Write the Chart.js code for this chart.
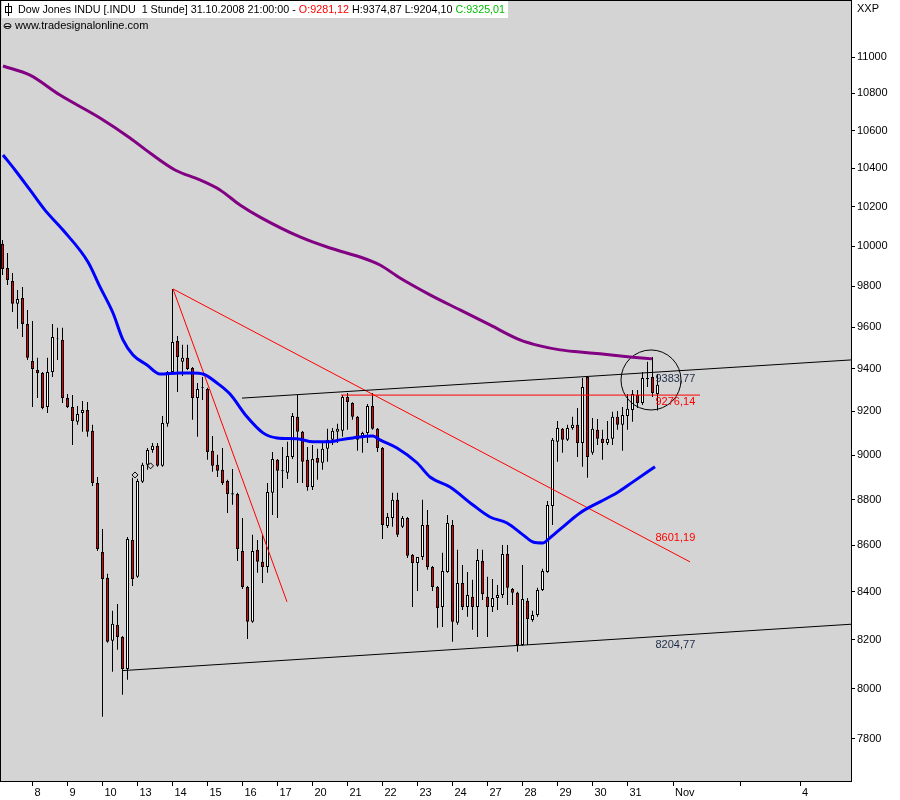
<!DOCTYPE html>
<html>
<head>
<meta charset="utf-8">
<script src="https://cdn.jsdelivr.net/npm/chart.js@4.4.0/dist/chart.umd.min.js"></script>
<style>
  html, body { margin: 0; padding: 0; background: #fff; }
</style>
</head>
<body>
<canvas id="chart" width="900" height="800"></canvas>
<script>
// hourly candles, Oct 7 (partial) .. Oct 31 2008, one entry per bar
var opens = [10011,9890,9825,9713,9742,9615,9437,9394,9380,9221,9385,9546,9538,9262,9221,9152,9193,9207,9111,8874,
  8571,8459,8195,8262,8211,8080,8623,8464,8879,8956,9023,9042,8951,9143,9385,9533,9433,9452,9404,9262,
  9314,9305,9019,8956,8933,8883,8828,8825,8575,8421,8274,8580,8528,8506,8830,8978,8931,8920,8991,9175,
  9106,8978,8856,8987,8965,9028,9069,9106,9111,9267,9239,9175,9087,9101,9225,9120,9032,8684,8719,8799,
  8680,8719,8558,8523,8549,8688,8506,8421,8336,8485,8688,8270,8438,8336,8379,8336,8532,8379,8336,8374,
  8387,8562,8412,8396,8178,8362,8282,8303,8408,8485,8772,9060,9120,9069,9124,9138,9055,9361,9010,9115,
  9074,9055,9074,9175,9138,9179,9207,9276,9239,9356,9361,9281.12];
var highs = [10031,9965,9865,9781,9796,9683,9629,9452,9385,9452,9615,9596,9596,9281,9276,9225,9248,9244,9138,8901,
  8671,8477,8320,8349,8215,8636,8897,8893,8965,9032,9055,9055,9179,9390,9786,9557,9514,9514,9408,9333,
  9361,9310,9087,9001,9032,8888,8937,8830,8719,8425,8645,8623,8645,8874,9014,8982,9037,9060,9193,9276,
  9110,9037,9046,9028,9055,9120,9124,9143,9276,9286,9243,9179,9106,9234,9286,9124,9036,8741,8830,8830,
  8728,8723,8562,8549,8799,8754,8510,8425,8567,8732,8710,8580,8515,8485,8451,8584,8580,8464,8455,8429,
  8601,8601,8416,8400,8515,8374,8320,8417,8498,8794,9078,9156,9124,9138,9175,9216,9356,9366,9170,9165,
  9115,9156,9198,9202,9221,9281,9300,9300,9385,9433,9456,9374.87];
var lows = [9855,9806,9673,9591,9552,9442,9221,9262,9210,9193,9361,9442,9239,9216,9046,9138,9106,9083,8861,8575,
  7887,8187,8068,8158,7975,8036,8425,8460,8874,8933,9010,8947,8947,9129,9380,9290,9366,9394,9161,9083,
  9253,8978,8924,8901,8865,8741,8777,8532,8412,8203,8270,8481,8438,8481,8732,8719,8852,8892,8982,8874,
  8874,8839,8843,8888,8933,8969,9046,9055,9083,9115,9161,9019,9010,9055,9115,9014,8627,8675,8680,8636,
  8675,8545,8336,8404,8536,8494,8404,8249,8253,8481,8191,8262,8324,8295,8241,8211,8366,8211,8315,8324,
  8374,8345,8345,8150,8175,8178,8274,8295,8404,8481,8688,8969,9010,9064,9115,8991,8947,8897,9001,9046,
  8978,9046,9046,9115,9019,9115,9152,9216,9230,9314,9267,9204.10];
var closes = [9885,9830,9713,9737,9615,9452,9399,9380,9216,9385,9552,9543,9262,9221,9156,9188,9207,9106,8874,8584,
  8455,8191,8266,8211,8080,8627,8455,8883,8956,9023,9042,8951,9147,9385,9528,9456,9452,9399,9262,9305,
  9310,9014,8951,8929,8874,8825,8823,8584,8421,8274,8575,8528,8506,8834,8982,8929,8927,8996,9179,9106,
  8969,8856,8982,8965,9028,9069,9111,9120,9267,9244,9175,9069,9101,9225,9120,9032,8688,8723,8799,8645,
  8719,8554,8523,8549,8688,8506,8421,8332,8489,8697,8274,8438,8336,8387,8336,8536,8391,8336,8374,8387,
  8562,8417,8396,8178,8370,8286,8303,8408,8489,8776,9069,9124,9069,9124,9138,9055,9314,8991,9120,9074,
  9055,9074,9175,9138,9184,9212,9281,9239,9356,9352,9286,9325.01];

// moving averages at bar positions
var maFastX = [0.1,2.5,5.5,8.5,12.1,17.1,19.5,22.1,24.1,26.1,28.9,31.5,35.5,38.1,40.1,42.9,45.5,48.9,52.1,54.9,
  58.9,62.1,65.5,67.5,70.1,74.1,75.5,78.9,82.9,85.5,89.5,94.1,97.5,100.9,104.1,106.1,108.1,109.5,112.1,115.5,
  119.5,122.9,126.1,130.5];
var maFastY = [10470,10391,10287,10183,10081,9920,9796,9668,9538,9466,9418,9375,9380,9380,9375,9333,9281,9175,9101,9078,
  9074,9060,9060,9069,9078,9087,9069,9032,8965,8901,8856,8776,8723,8697,8645,8614,8610,8632,8680,8741,
  8790,8830,8879,8947];
var maSlowX = [0.1,5.5,11.5,19.5,25.5,29.5,34.5,39.5,43.5,47.5,51.5,59.5,65.5,71.5,75.5,79.5,85.5,91.5,97.5,103.5,
  107.5,111.5,115.5,119.5,125.5,129.9];
var maSlowY = [10950,10900,10791,10667,10560,10480,10391,10339,10287,10209,10147,10046,9990,9945,9905,9840,9757,9683,9610,9538,
  9509,9490,9480,9471,9456,9447];

// drawn trend lines (bar index, price)
var upperLineX = [47.9, 169.7], upperLineY = [9262, 9442];
var lowerLineX = [24.0, 169.7], lowerLineY = [8073, 8264];
var flatLineX = [67.7, 139.5], flatLineY = [9276.14, 9276.14];
var fallLineX = [34.1, 137.5], fallLineY = [9786, 8528];
var steepLineX = [34.1, 56.9], steepLineY = [9786, 8358];

var circleX = [129.7], circleY = [9347];
var markX = [26.5, 29.6], markY = [8910, 8951];

var levelValues = [9383.77, 9276.14, 8601.19, 8204.77];
var levelTexts = ['9383,77', '9276,14', '8601,19', '8204,77'];
var levelAt = 130.6;

var xTickValues = [6,13,20,27,34,41,48,55,62,69,76,83,90,97,104,111,118,125,134.1,147.5,159.5];
var xTickLabels = ['8','9','10','13','14','15','16','17','20','21','22','23','24','27','28','29','30','31','Nov','','4'];
var yTickValues = [7800,8000,8200,8400,8600,8800,9000,9200,9400,9600,9800,10000,10200,10400,10600,10800,11000];

var xMin = -0.3, xMax = 169.7;
var yMin = 7636, yMax = 11315;

function pts(xs, ys) {
    var out = [];
    for (var i = 0; i < xs.length; i++) out.push({x: xs[i], y: ys[i]});
    return out;
}

var bodies = [], wicks = [], bodyColors = [];
for (var i = 0; i < opens.length; i++) {
    bodies.push({x: i, y: [opens[i], closes[i]]});
    wicks.push({x: i, y: [lows[i], highs[i]]});
    bodyColors.push(closes[i] >= opens[i] ? '#ffffff' : '#e40000');
}

var FONT = '"Liberation Sans", Arial, sans-serif';

function trend(xs, ys, color) {
    return {
        type: 'line', data: pts(xs, ys), borderColor: color, borderWidth: 1,
        pointRadius: 0, tension: 0, order: 0
    };
}

var framePlugin = {
    id: 'frame',
    beforeDraw: function(chart) {
        var ctx = chart.ctx, a = chart.chartArea;
        ctx.save();
        ctx.fillStyle = '#ffffff';
        ctx.fillRect(0, 0, chart.width, chart.height);
        ctx.fillStyle = '#d4d4d4';
        ctx.fillRect(a.left, a.top, a.right - a.left, a.bottom - a.top);
        ctx.restore();
    },
    afterDatasetsDraw: function(chart) {
        var ctx = chart.ctx;
        var xs = chart.scales.x, ys = chart.scales.y;
        var colors = ['#1e2c48', '#ff0000', '#ff0000', '#1e2c48'];
        ctx.save();
        ctx.font = '11px ' + FONT;
        ctx.textAlign = 'left';
        for (var i = 0; i < levelValues.length; i++) {
            var px = xs.getPixelForValue(levelAt);
            var py = ys.getPixelForValue(levelValues[i]);
            ctx.fillStyle = colors[i];
            if (i == 2) {
                ctx.textBaseline = 'bottom';
                ctx.fillText(levelTexts[i], px, py - 1);
            } else {
                ctx.textBaseline = 'top';
                ctx.fillText(levelTexts[i], px, py + 1);
            }
        }
        ctx.restore();
    },
    afterDraw: function(chart) {
        var ctx = chart.ctx, a = chart.chartArea;
        ctx.save();
        // plot frame
        ctx.strokeStyle = '#000';
        ctx.lineWidth = 1;
        ctx.strokeRect(a.left - 0.5, a.top - 0.5, a.right - a.left + 1, a.bottom - a.top + 1);
        ctx.beginPath();
        ctx.moveTo(a.left, a.bottom + 0.5);
        ctx.lineTo(a.right, a.bottom + 0.5);
        ctx.stroke();

        // header line
        ctx.fillStyle = '#ffffff';
        ctx.fillRect(2, 1, 506, 17);
        ctx.strokeStyle = '#000';
        ctx.beginPath();
        ctx.moveTo(8.5, 3); ctx.lineTo(8.5, 16);
        ctx.stroke();
        ctx.strokeRect(5.5, 6.5, 6, 6);

        ctx.font = '10.75px ' + FONT;
        ctx.textBaseline = 'middle';
        ctx.textAlign = 'left';
        var parts = [
            ['Dow Jones INDU [.INDU  1 Stunde] 31.10.2008 21:00:00 - ', '#000000'],
            ['O:9281,12', '#ff0000'],
            [' H:9374,87 L:9204,10 ', '#000000'],
            ['C:9325,01', '#00c000']
        ];
        var tx = 18;
        parts.forEach(function(p) {
            ctx.fillStyle = p[1];
            ctx.fillText(p[0], tx, 10);
            tx += ctx.measureText(p[0]).width;
        });

        // second line
        ctx.beginPath();
        ctx.ellipse(7.5, 26, 3.5, 2.5, 0, 0, Math.PI * 2);
        ctx.stroke();
        ctx.beginPath();
        ctx.moveTo(5, 26.5); ctx.lineTo(10, 26.5);
        ctx.stroke();
        ctx.fillStyle = '#000';
        ctx.font = '11px ' + FONT;
        ctx.fillText('www.tradesignalonline.com', 15, 26);

        ctx.fillText('XXP', 857, 9);
        ctx.restore();
    }
};

var ctx = document.getElementById('chart').getContext('2d');
var chart = new Chart(ctx, {
    type: 'bar',
    data: {
        datasets: [
            {
                type: 'line', data: pts(maSlowX, maSlowY), borderColor: '#820082', borderWidth: 3,
                pointRadius: 0, cubicInterpolationMode: 'monotone', order: 0
            },
            {
                type: 'line', data: pts(maFastX, maFastY), borderColor: '#0000ff', borderWidth: 3,
                pointRadius: 0, cubicInterpolationMode: 'monotone', order: 0
            },
            trend(upperLineX, upperLineY, '#000000'),
            trend(lowerLineX, lowerLineY, '#000000'),
            trend(flatLineX, flatLineY, '#ff0000'),
            trend(fallLineX, fallLineY, '#ff0000'),
            trend(steepLineX, steepLineY, '#ff0000'),
            {
                type: 'scatter', data: pts(circleX, circleY), pointRadius: 30, pointBorderWidth: 1,
                pointBackgroundColor: 'rgba(0,0,0,0)', pointBorderColor: '#000', order: 0
            },
            {
                type: 'scatter', data: pts(markX, markY), pointStyle: 'rectRot', pointRadius: 3,
                pointBorderWidth: 1, pointBackgroundColor: 'rgba(0,0,0,0)', pointBorderColor: '#000', order: 0
            },
            {
                data: bodies, backgroundColor: bodyColors, borderColor: '#000', borderWidth: 1,
                borderSkipped: false, grouped: false, maxBarThickness: 3, inflateAmount: 0,
                categoryPercentage: 1, barPercentage: 1, order: 1
            },
            {
                data: wicks, backgroundColor: '#000', borderWidth: 0, grouped: false,
                maxBarThickness: 1, inflateAmount: 0, categoryPercentage: 1, barPercentage: 1, order: 2
            }
        ]
    },
    options: {
        responsive: false,
        animation: false,
        layout: { autoPadding: false, padding: { left: 1, top: 1, right: 0, bottom: 0 } },
        plugins: { legend: { display: false }, tooltip: { enabled: false } },
        scales: {
            x: {
                type: 'linear', min: xMin, max: xMax, offset: false,
                grid: { drawOnChartArea: false, offset: false, tickLength: 5, color: '#000' },
                border: { display: true, color: '#000' },
                ticks: {
                    autoSkip: false, maxRotation: 0, align: 'start', labelOffset: 2, padding: 0,
                    color: '#000', font: { size: 11, family: FONT },
                    callback: function(v, i) { return xTickLabels[i]; }
                },
                afterBuildTicks: function(s) { s.ticks = xTickValues.map(function(v) { return {value: v}; }); },
                afterFit: function(s) { s.height = 19; s.paddingLeft = 0; s.paddingRight = 0; }
            },
            y: {
                type: 'logarithmic', position: 'right', min: yMin, max: yMax,
                grid: { drawOnChartArea: false, tickLength: 4, color: '#000' },
                border: { display: true, color: '#000' },
                ticks: {
                    autoSkip: false, padding: 2, color: '#000', font: { size: 11, family: FONT },
                    callback: function(v) { return String(v); }
                },
                afterBuildTicks: function(s) { s.ticks = yTickValues.map(function(v) { return {value: v}; }); },
                afterFit: function(s) { s.width = 49; s.paddingTop = 0; s.paddingBottom = 0; }
            }
        }
    },
    plugins: [framePlugin]
});
</script>
</body>
</html>
